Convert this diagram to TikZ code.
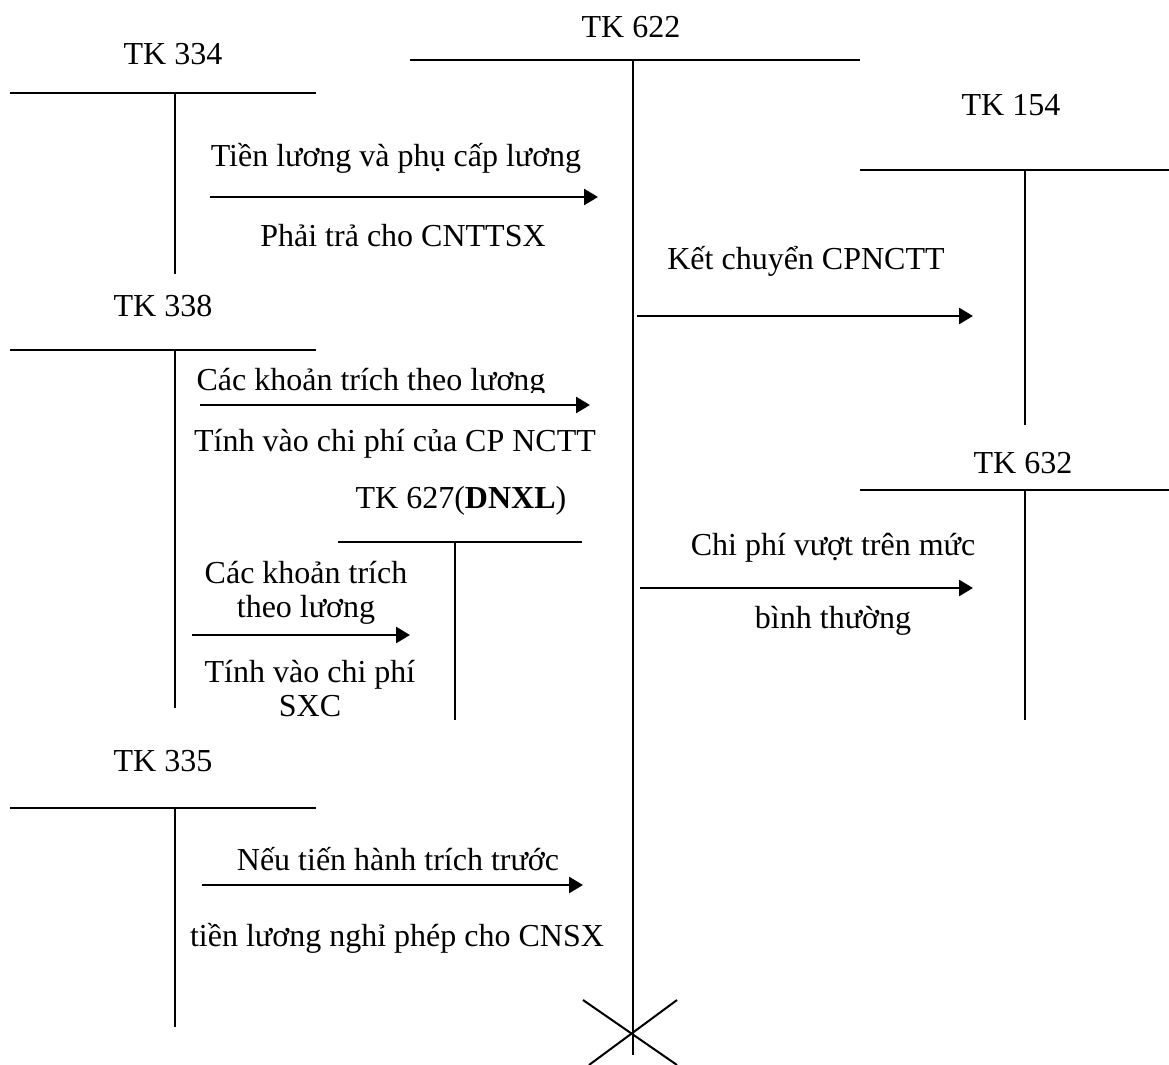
\documentclass[tikz,border=0pt]{standalone}
\usepackage{fontspec}
\setmainfont{Liberation Serif}
\usetikzlibrary{arrows.meta}
\tikzset{
	tline/.style = {line width=1pt},
	flow/.style = {line width=1.4pt, -{Triangle[length=7pt,width=8pt]}},
	lbl/.style = {inner sep=0pt, anchor=base, font=\fontsize{16}{16.8}\selectfont},
}
\begin{document}
\begin{tikzpicture}[x=0.5pt, y=-0.5pt]
			\useasboundingbox (0,0) rectangle (1169,1065);
			
			% TK 334
			\node[lbl] (n334) at (173,65) {TK 334};
			\coordinate (h334a) at (10,93);
			\coordinate (h334b) at (316,93);
			\coordinate (v334a) at (175,93);
			\coordinate (v334b) at (175,274);
			\draw[tline] (h334a) -- (h334b);
			\draw[tline] (v334a) -- (v334b);
			
			% TK 622
			\node[lbl] (n622) at (631,38) {TK 622};
			\coordinate (h622a) at (410,60);
			\coordinate (h622b) at (860,60);
			\coordinate (v622a) at (633,60);
			\coordinate (v622b) at (633,1055);
			\draw[tline] (h622a) -- (h622b);
			\draw[tline] (v622a) -- (v622b);
			\coordinate (x1a) at (583,1000);
			\coordinate (x1b) at (677,1065);
			\coordinate (x2a) at (677,1000);
			\coordinate (x2b) at (589,1065);
			\draw[tline] (x1a) -- (x1b);
			\draw[tline] (x2a) -- (x2b);
			
			% TK 154
			\node[lbl] (n154) at (1011,116) {TK 154};
			\coordinate (h154a) at (860,170);
			\coordinate (h154b) at (1169,170);
			\coordinate (v154a) at (1025,170);
			\coordinate (v154b) at (1025,425);
			\draw[tline] (h154a) -- (h154b);
			\draw[tline] (v154a) -- (v154b);
			
			% TK 338
			\node[lbl] (n338) at (163,316) {TK 338};
			\coordinate (h338a) at (10,350);
			\coordinate (h338b) at (316,350);
			\coordinate (v338a) at (175,350);
			\coordinate (v338b) at (175,708);
			\draw[tline] (h338a) -- (h338b);
			\draw[tline] (v338a) -- (v338b);
			
			% TK 632
			\node[lbl] (n632) at (1023,473) {TK 632};
			\coordinate (h632a) at (860,490);
			\coordinate (h632b) at (1169,490);
			\coordinate (v632a) at (1025,490);
			\coordinate (v632b) at (1025,720);
			\draw[tline] (h632a) -- (h632b);
			\draw[tline] (v632a) -- (v632b);
			
			% TK 627
			\node[lbl] (n627) at (461,508) {TK 627(\textbf{DNXL})};
			\coordinate (h627a) at (338,542);
			\coordinate (h627b) at (582,542);
			\coordinate (v627a) at (455,542);
			\coordinate (v627b) at (455,720);
			\draw[tline] (h627a) -- (h627b);
			\draw[tline] (v627a) -- (v627b);
			
			% TK 335
			\node[lbl] (n335) at (163,771) {TK 335};
			\coordinate (h335a) at (10,808);
			\coordinate (h335b) at (316,808);
			\coordinate (v335a) at (175,808);
			\coordinate (v335b) at (175,1027);
			\draw[tline] (h335a) -- (h335b);
			\draw[tline] (v335a) -- (v335b);
			
			% Arrow 1
			\coordinate (a1s) at (210,197);
			\coordinate (a1e) at (598,197);
			\draw[flow] (a1s) -- (a1e);
			\node[lbl] (t1a) at (396,167) {Tiền lương và phụ cấp lương};
			\node[lbl] (t1b) at (403,247) {Phải trả cho CNTTSX};
			
			% Arrow 2
			\coordinate (a2s) at (200,405);
			\coordinate (a2e) at (590,405);
			\draw[flow] (a2s) -- (a2e);
			\begin{scope}
				\clip (150,350) rectangle (650,392);
				\node[lbl] (t2a) at (371,390) {Các khoản trích theo lương};
			\end{scope}
			\node[lbl] (t2b) at (395,451) {Tính vào chi phí của CP NCTT};
			
			% Arrow 3
			\coordinate (a3s) at (192,635);
			\coordinate (a3e) at (410,635);
			\draw[flow] (a3s) -- (a3e);
			\node[lbl, align=center] (t3a) at (306,617) {Các khoản trích\\theo lương};
			\node[lbl, align=center] (t3b) at (310,716) {Tính vào chi phí\\SXC};
			
			% Arrow 4
			\coordinate (a4s) at (637,316);
			\coordinate (a4e) at (973,316);
			\draw[flow] (a4s) -- (a4e);
			\node[lbl] (t4a) at (806,270) {Kết chuyển CPNCTT};
			
			% Arrow 5
			\coordinate (a5s) at (640,588);
			\coordinate (a5e) at (973,588);
			\draw[flow] (a5s) -- (a5e);
			\node[lbl] (t5a) at (833,555) {Chi phí vượt trên mức};
			\node[lbl] (t5b) at (833,628) {bình thường};
			
			% Arrow 6
			\coordinate (a6s) at (202,885);
			\coordinate (a6e) at (583,885);
			\draw[flow] (a6s) -- (a6e);
			\node[lbl] (t6a) at (398,870) {Nếu tiến hành trích trước};
			\node[lbl] (t6b) at (397,946) {tiền lương nghỉ phép cho CNSX};
		\end{tikzpicture}
\end{document}
